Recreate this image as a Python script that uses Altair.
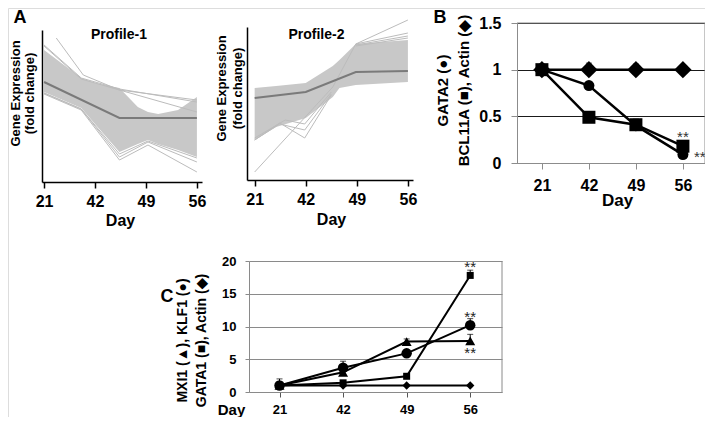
import altair as alt
import pandas as pd

FONT = "Liberation Sans"

# ---------------- shared categories / labels ----------------
days = ["21", "42", "49", "56"]
day_pos = [0, 1, 2, 3]
profile_names = ["Profile-1", "Profile-2"]
panel_letters = ["A", "B", "C"]

# ---------------- Panel A : Profile-1 (position along day axis, expression units) ----------------
p1_band_x = [0, 0.73, 1.0, 1.48, 1.84, 2.04, 2.24, 2.63, 3.0]
p1_band_hi = [132, 104, 99, 94, 75, 70, 68, 72, 85]
p1_band_lo = [90, 74, 58, 30, 38, 42, 38, 32, 25]
p1_mean_x = [0, 1.48, 3.0]
p1_mean_y = [100, 64, 64]
p1_out_x = [[0.24, 0.77, 1.48, 3.0], [0, 0.73, 1.48, 3.0], [0, 0.73, 1.48, 3.0],
            [0, 0.73, 1.48, 2.04, 3.0], [0, 0.73, 1.48, 2.04, 3.0], [0, 0.73, 1.48, 2.04, 3.0]]
p1_out_y = [[144, 107, 92, 70], [137, 104, 93, 80], [136, 103, 92, 82],
            [88, 72, 22, 37, 10], [89, 73, 25, 40, 20], [89, 73, 28, 41, 24]]

# ---------------- Panel A : Profile-2 ----------------
p2_band_x = [0, 0.42, 1.0, 1.53, 1.66, 1.98, 3.0]
p2_band_hi = [92, 94, 97, 114, 120, 136, 140]
p2_band_lo = [40, 53, 62, 83, 92, 95, 98]
p2_mean_x = [0, 1.0, 1.98, 3.0]
p2_mean_y = [82, 88, 108, 109]
p2_out_x = [[0, 1.53, 1.98, 3.0], [0, 0.49, 0.98, 1.5], [0, 0.49, 0.98, 1.5],
            [0, 0.6, 0.98, 1.5], [1.98, 3.0], [1.98, 3.0], [1.98, 3.0]]
p2_out_y = [[8, 93, 136, 160], [40, 57, 42, 85], [40, 56, 50, 86],
            [42, 60, 56, 88], [136, 147], [135, 144], [134, 142]]

# ---------------- Panel B ----------------
b_gata2 = [1.0, 0.83, 0.40, 0.09]
b_gata2_err = [0.0, 0.02, 0.03, 0.01]
b_bcl11a = [1.0, 0.49, 0.41, 0.18]
b_bcl11a_err = [0.0, 0.06, 0.06, 0.03]
b_actin = [1.0, 1.0, 1.0, 1.0]
b_actin_err = [0.0, 0.07, 0.06, 0.03]
b_ticks = [0, 0.5, 1, 1.5]
b_stars_x = [3.0, 3.36]
b_stars_y = [0.28, 0.06]

# ---------------- Panel C ----------------
c_gata1 = [1.0, 1.4, 2.4, 17.8]
c_gata1_err = [0.3, 0.2, 0.2, 0.8]
c_klf1 = [1.0, 3.7, 5.9, 10.2]
c_klf1_err = [1.0, 1.0, 0.5, 1.0]
c_mxi1 = [1.0, 3.0, 7.7, 7.8]
c_mxi1_err = [0.5, 0.5, 0.4, 1.0]
c_actin = [1.0, 1.0, 1.0, 1.0]
c_actin_err = [0.0, 0.0, 0.0, 0.0]
c_ticks = [0, 5, 10, 15, 20]
c_stars_x = [3.0, 3.0, 3.0]
c_stars_y = [19.1, 11.5, 5.9]

# ---------------- scales (placement of each panel inside the figure) ----------------
xa1 = alt.Scale(domain=[-0.04, 3.1], range=[34, 194], nice=False, zero=False)
ya1 = alt.Scale(domain=[0, 152], range=[174, 22], nice=False, zero=False)
xa2 = alt.Scale(domain=[-0.15, 3.1], range=[239, 405], nice=False, zero=False)
ya2 = alt.Scale(domain=[0, 153], range=[172, 19], nice=False, zero=False)
b_xdom = [-0.53, 3.47]
b_ydom = [0, 1.5]
xb = alt.Scale(domain=b_xdom, range=[509, 697], nice=False, zero=False)
yb = alt.Scale(domain=b_ydom, range=[155, 15], nice=False, zero=False)
c_xdom = [-0.48, 3.5]
c_ydom = [0, 20]
xc = alt.Scale(domain=c_xdom, range=[241, 494], nice=False, zero=False)
yc = alt.Scale(domain=c_ydom, range=[384, 253], nice=False, zero=False)

H = 409
day_expr = "[" + ",".join("'" + d + "'" for d in days) + "][datum.value]"


def day_axis(axis_y, lsize, lpad, tsize, tcolor, dcolor, dwidth, title_x, title_y, title_size):
    return alt.Axis(orient="bottom", offset=axis_y - H, values=day_pos, labelExpr=day_expr,
                    grid=False, domainColor=dcolor, domainWidth=dwidth, tickColor=tcolor,
                    tickSize=tsize, tickWidth=dwidth, labelFont=FONT, labelFontSize=lsize,
                    labelFontWeight="bold", labelColor="black", labelPadding=lpad,
                    labelFlush=False, labelOverlap=False, title="Day", titleFont=FONT,
                    titleFontSize=title_size, titleFontWeight="bold", titleColor="black",
                    titleX=title_x, titleY=title_y, titleAlign="center",
                    titleBaseline="middle")


class Panel:
    def __init__(self, xs, ys, xaxis, yaxis):
        self.xs, self.ys, self.xaxis, self.yaxis = xs, ys, xaxis, yaxis

    def X(self, field):
        return alt.X(field + ":Q", scale=self.xs, axis=self.xaxis)

    def Y(self, field):
        return alt.Y(field + ":Q", scale=self.ys, axis=self.yaxis)


def profile_panel(p, bx, bhi, blo, mx, my, ox, oy, label, lx, ly):
    band = alt.Chart(pd.DataFrame({"x": bx, "hi": bhi, "lo": blo})).mark_area(
        color="#c8c8c8", opacity=1).encode(x=p.X("x"), y=p.Y("hi"), y2="lo:Q")
    rows = []
    for i, (xl, yl) in enumerate(zip(ox, oy)):
        for k, (a, b) in enumerate(zip(xl, yl)):
            rows.append({"id": i, "k": k, "x": a, "y": b})
    outl = alt.Chart(pd.DataFrame(rows)).mark_line(color="#bcbcbc", strokeWidth=1).encode(
        x=p.X("x"), y=p.Y("y"), detail="id:N", order="k:Q")
    mean = alt.Chart(pd.DataFrame({"x": mx, "y": my})).mark_line(
        color="#7a7a7a", strokeWidth=2).encode(x=p.X("x"), y=p.Y("y"))
    lab = alt.Chart(pd.DataFrame({"x": [lx], "y": [ly], "t": [label]})).mark_text(
        font=FONT, fontSize=14, fontWeight="bold", color="black").encode(
        x=p.X("x"), y=p.Y("y"), text="t:N")
    return alt.layer(band, outl, mean, lab)


def series_layers(p, values, errs, shape, size, lw):
    df = pd.DataFrame({"x": day_pos, "y": values,
                       "top": [v + e for v, e in zip(values, errs)]})
    base = alt.Chart(df)
    err = base.transform_filter("datum.top > datum.y").mark_rule(
        color="black", strokeWidth=1).encode(x=p.X("x"), y=p.Y("y"), y2="top:Q")
    cap = base.transform_filter("datum.top > datum.y").mark_tick(
        orient="horizontal", color="black", size=6, thickness=1).encode(
        x=p.X("x"), y=p.Y("top"))
    line = base.mark_line(color="black", strokeWidth=lw).encode(x=p.X("x"), y=p.Y("y"))
    pts = base.mark_point(shape=shape, size=size, filled=True, color="black",
                          opacity=1).encode(x=p.X("x"), y=p.Y("y"))
    return [err, cap, line, pts]


# ---------------- Panel A charts ----------------
def profile_y_axis(offset, tx, ty, lh):
    return alt.Axis(orient="left", offset=offset, ticks=False, labels=False, grid=False,
                    domainColor="black", domainWidth=1.5,
                    title=["Gene Expression", "(fold change)"], titleFont=FONT,
                    titleFontSize=13, titleFontWeight="bold", titleColor="black",
                    titleLineHeight=lh, titleAngle=270, titleX=tx, titleY=ty,
                    titleAlign="center", titleBaseline="middle")


pa1 = Panel(xa1, ya1, day_axis(174, 16, 5, 6, "black", "black", 1.5, 112, 38, 16),
            profile_y_axis(-34, -27, 85, 14))
pa2 = Panel(xa2, ya2, day_axis(172, 16, 5, 6, "black", "black", 1.5, 323, 39, 16),
            profile_y_axis(-239, -25.5, 80, 15.5))

panel_a1 = profile_panel(pa1, p1_band_x, p1_band_hi, p1_band_lo, p1_mean_x, p1_mean_y,
                         p1_out_x, p1_out_y, profile_names[0], 1.47, 147)
panel_a2 = profile_panel(pa2, p2_band_x, p2_band_hi, p2_band_lo, p2_mean_x, p2_mean_y,
                         p2_out_x, p2_out_y, profile_names[1], 1.21, 145)

# ---------------- Panel B ----------------
b_y_axis = alt.Axis(orient="left", offset=-509, values=b_ticks, format="~g", grid=True,
                    gridColor="#1a1a1a", gridWidth=1, domainColor="#8c8c8c", domainWidth=1,
                    tickColor="#8c8c8c", tickSize=6, labelFont=FONT, labelFontSize=16,
                    labelFontWeight="bold", labelColor="black", labelPadding=10,
                    labelFlush=False, labelOverlap=False,
                    title=["GATA2 (\u25cf)", "BCL11A (\u25a0), Actin (\u25c6)"],
                    titleFont=FONT, titleFontSize=15, titleFontWeight="bold",
                    titleColor="black", titleLineHeight=21, titleAngle=270, titleX=-75,
                    titleY=82, titleAlign="center", titleBaseline="middle")
pb = Panel(xb, yb, day_axis(155, 16, 8, 6, "#8c8c8c", "#8c8c8c", 1, 609, 37, 17), b_y_axis)

b_frame_df = pd.DataFrame({"x": [b_xdom[0], b_xdom[1]], "x2": [b_xdom[1], b_xdom[1]],
                           "y": [b_ydom[1], b_ydom[0]], "y2": [b_ydom[1], b_ydom[1]]})
b_frame = alt.Chart(b_frame_df).mark_rule(color="#8c8c8c", strokeWidth=1).encode(
    x=pb.X("x"), y=pb.Y("y"), x2="x2:Q", y2="y2:Q")
b_stars = alt.Chart(pd.DataFrame({"x": b_stars_x, "y": b_stars_y, "t": ["**", "**"]})).mark_text(
    font=FONT, fontSize=15, color="#333333", baseline="middle").encode(
    x=pb.X("x"), y=pb.Y("y"), text="t:N")
panel_b = alt.layer(
    b_frame,
    *series_layers(pb, b_actin, b_actin_err, "diamond", 300, 2.5),
    *series_layers(pb, b_gata2, b_gata2_err, "circle", 121, 2.5),
    *series_layers(pb, b_bcl11a, b_bcl11a_err, "square", 169, 2.5),
    b_stars,
)

# ---------------- Panel C ----------------
c_y_axis = alt.Axis(orient="left", offset=-241, values=c_ticks, format="~g", grid=True,
                    gridColor="#8a8a8a", gridWidth=1, domainColor="#8a8a8a", domainWidth=1,
                    tickColor="#8a8a8a", tickSize=4, labelFont=FONT, labelFontSize=13,
                    labelFontWeight="bold", labelColor="black", labelPadding=9,
                    labelFlush=False, labelOverlap=False,
                    title=["MXI1 (\u25b2), KLF1 (\u25cf)", "GATA1 (\u25a0), Actin (\u25c6)"],
                    titleFont=FONT, titleFontSize=14, titleFontWeight="bold",
                    titleColor="black", titleLineHeight=19, titleAngle=270, titleX=-67,
                    titleY=332, titleAlign="center", titleBaseline="middle")
pc = Panel(xc, yc, day_axis(384, 13, 6, 5, "#555555", "#8a8a8a", 1, 223, 17, 15), c_y_axis)

c_frame_df = pd.DataFrame({"x": [c_xdom[1]], "x2": [c_xdom[1]],
                           "y": [c_ydom[0]], "y2": [c_ydom[1]]})
c_frame = alt.Chart(c_frame_df).mark_rule(color="#8a8a8a", strokeWidth=1).encode(
    x=pc.X("x"), y=pc.Y("y"), x2="x2:Q", y2="y2:Q")
c_stars = alt.Chart(pd.DataFrame({"x": c_stars_x, "y": c_stars_y, "t": ["**"] * 3})).mark_text(
    font=FONT, fontSize=15, color="#222222", baseline="middle").encode(
    x=pc.X("x"), y=pc.Y("y"), text="t:N")
panel_c = alt.layer(
    c_frame,
    *series_layers(pc, c_actin, c_actin_err, "diamond", 70, 2),
    *series_layers(pc, c_gata1, c_gata1_err, "square", 49, 2),
    *series_layers(pc, c_mxi1, c_mxi1_err, "triangle-up", 100, 2),
    *series_layers(pc, c_klf1, c_klf1_err, "circle", 110, 2),
    c_stars,
)

# ---------------- panel letters ----------------
letter_pos = [(12, 10), (432, 10), (159, 289)]
letters = [
    alt.Chart(pd.DataFrame({"t": [t]})).mark_text(
        font=FONT, fontSize=18, fontWeight="bold", color="black",
        align="center", baseline="middle").encode(
        x=alt.value(px), y=alt.value(py), text="t:N")
    for t, (px, py) in zip(panel_letters, letter_pos)
]

chart = alt.layer(panel_a1, panel_a2, panel_b, panel_c, *letters).resolve_scale(
    x="independent", y="independent"
).properties(
    width=697, height=409, padding=0,
    autosize=alt.AutoSizeParams(type="none"),
).configure_view(stroke=None).configure(font=FONT)

chart.save("out.html", embed_options={"renderer": "svg", "actions": False})
